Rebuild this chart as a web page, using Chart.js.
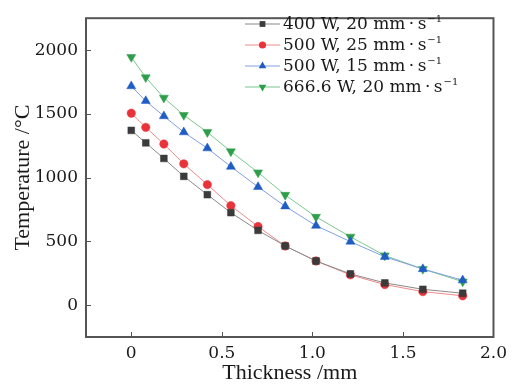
<!DOCTYPE html>
<html>
<head>
<meta charset="utf-8">
<script src="https://cdn.jsdelivr.net/npm/chart.js@4.4.1/dist/chart.umd.min.js"></script>
<style>
  html, body { margin: 0; padding: 0; background: #fff; }
  #wrap { width: 513px; height: 386px; }
</style>
</head>
<body>
<div id="wrap"><canvas id="chart" width="513" height="386"></canvas></div>
<script>
// Données
const thickness = [0, 0.08, 0.18, 0.29, 0.42, 0.55, 0.70, 0.85, 1.02, 1.21, 1.40, 1.61, 1.83];
const seriesLabels = ['400 W, 20 mm\u2009\u00b7\u2009s', '500 W, 25 mm\u2009\u00b7\u2009s', '500 W, 15 mm\u2009\u00b7\u2009s', '666.6 W, 20 mm\u2009\u00b7\u2009s'];
const temp400 = [1370, 1273, 1150, 1010, 866, 725, 586, 464, 346, 245, 174, 124, 93];
const temp500a = [1505, 1394, 1263, 1108, 945, 780, 616, 464, 346, 237, 161, 106, 73];
const temp500b = [1717, 1601, 1482, 1356, 1230, 1086, 927, 775, 623, 498, 379, 283, 195];
const temp666 = [1945, 1786, 1626, 1490, 1356, 1205, 1040, 864, 692, 536, 389, 283, 184];
const xTicks = [0, 0.5, 1.0, 1.5, 2.0];
const yTicks = [0, 500, 1000, 1500, 2000];

const serif = "'DejaVu Serif', serif";
const titleFont = "'Liberation Serif', serif";
const frameColor = '#555';
const textColor = '#1a1a1a';

const styles = [
    { line: '#8a8a8a', mark: '#3b3b3b', shape: 'rect', rot: 0, r: 4.8 },
    { line: '#f08a8a', mark: '#e8333b', shape: 'circle', rot: 0, r: 4.2 },
    { line: '#7f9fe0', mark: '#1f5cc4', shape: 'triangle', rot: 0, r: 5.2 },
    { line: '#7cc88f', mark: '#2f9e4b', shape: 'triangle', rot: 180, r: 5.2 }
];

function toPoints(arr) {
    return arr.map((v, i) => ({ x: thickness[i], y: v }));
}

const allSeries = [temp400, temp500a, temp500b, temp666];
const datasets = allSeries.map((s, i) => ({
    label: seriesLabels[i],
    data: toPoints(s),
    borderColor: styles[i].line,
    borderWidth: 1,
    pointStyle: styles[i].shape,
    rotation: styles[i].rot,
    pointRadius: styles[i].r,
    pointBackgroundColor: styles[i].mark,
    pointBorderColor: styles[i].mark,
    pointBorderWidth: 0.5,
    tension: 0
}));

function drawMark(ctx, st, x, y, r) {
    if (st.shape === 'rect') {
        const s = r * Math.SQRT1_2;
        ctx.rect(x - s, y - s, 2 * s, 2 * s);
    } else if (st.shape === 'circle') {
        ctx.arc(x, y, r, 0, Math.PI * 2);
    } else {
        const dir = st.rot === 180 ? -1 : 1;
        ctx.moveTo(x, y - dir * r);
        ctx.lineTo(x + r * 0.866, y + dir * r * 0.5);
        ctx.lineTo(x - r * 0.866, y + dir * r * 0.5);
        ctx.closePath();
    }
}

// Cadre + graduations vers l'intérieur + légende
const framePlugin = {
    id: 'frame',
    afterDraw(chart) {
        const ctx = chart.ctx;
        const a = chart.chartArea;
        const xs = chart.scales.x, ys = chart.scales.y;
        ctx.save();
        ctx.strokeStyle = frameColor;
        ctx.lineWidth = 2;
        ctx.strokeRect(a.left, a.top, a.right - a.left, a.bottom - a.top);
        ctx.lineWidth = 1;
        ctx.beginPath();
        xTicks.forEach(v => {
            const px = Math.round(xs.getPixelForValue(v)) + 0.5;
            ctx.moveTo(px, a.bottom);
            ctx.lineTo(px, a.bottom - 5);
        });
        yTicks.forEach(v => {
            const py = Math.round(ys.getPixelForValue(v)) + 0.5;
            ctx.moveTo(a.left, py);
            ctx.lineTo(a.left + 5, py);
        });
        ctx.stroke();

        // légende
        const lx = 245, ly = 24, step = 21;
        chart.data.datasets.forEach((ds, i) => {
            const st = styles[i];
            const y = ly + i * step;
            ctx.strokeStyle = st.line;
            ctx.lineWidth = 1.2;
            ctx.beginPath();
            ctx.moveTo(lx, y);
            ctx.lineTo(lx + 35, y);
            ctx.stroke();
            ctx.fillStyle = st.mark;
            ctx.beginPath();
            drawMark(ctx, st, lx + 17.5, y, st.r * 0.85);
            ctx.fill();

            ctx.fillStyle = textColor;
            ctx.font = '17px ' + serif;
            ctx.textBaseline = 'middle';
            ctx.textAlign = 'left';
            ctx.fillText(ds.label, lx + 38, y + 1);
            const w = ctx.measureText(ds.label).width;
            ctx.font = '10px ' + serif;
            ctx.fillText('\u22121', lx + 38 + w + 1, y - 5);
        });
        ctx.restore();
    }
};

new Chart(document.getElementById('chart'), {
    type: 'line',
    data: { datasets: datasets },
    options: {
        responsive: false,
        animation: false,
        layout: { padding: { top: 8, right: 19, left: 0, bottom: 0 } },
        plugins: {
            legend: { display: false },
            tooltip: { enabled: false }
        },
        scales: {
            x: {
                type: 'linear',
                min: -0.25,
                max: 2.0,
                afterBuildTicks: s => { s.ticks = xTicks.map(v => ({ value: v })); },
                afterFit: s => { s.height = 49; },
                grid: { display: false, drawTicks: false },
                border: { display: false },
                ticks: {
                    color: textColor,
                    font: { family: serif, size: 17 },
                    padding: 6,
                    callback: v => v === 0 ? '0' : v.toFixed(1)
                },
                title: {
                    display: true,
                    text: 'Thickness /mm',
                    color: textColor,
                    font: { family: titleFont, size: 22 },
                    padding: { top: 0, bottom: 0 }
                }
            },
            y: {
                type: 'linear',
                min: -250,
                max: 2250,
                afterBuildTicks: s => { s.ticks = yTicks.map(v => ({ value: v })); },
                afterFit: s => { s.width = 86; },
                grid: { display: false, drawTicks: false },
                border: { display: false },
                ticks: {
                    color: textColor,
                    font: { family: serif, size: 17 },
                    padding: 8,
                    callback: v => String(v)
                },
                title: {
                    display: true,
                    text: 'Temperature /\u00b0C',
                    color: textColor,
                    font: { family: titleFont, size: 22 },
                    padding: { top: 10, bottom: 0 }
                }
            }
        }
    },
    plugins: [framePlugin]
});
</script>
</body>
</html>
